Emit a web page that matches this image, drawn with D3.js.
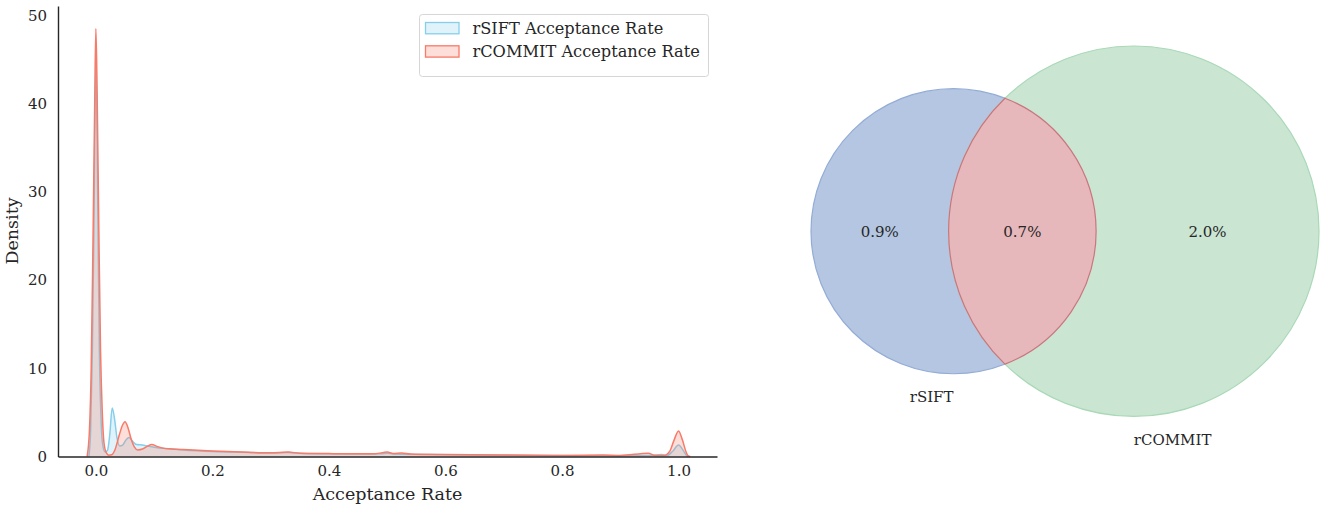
<!DOCTYPE html>
<html>
<head>
<meta charset="utf-8">
<script src="https://cdn.jsdelivr.net/npm/d3@7"></script>
<style>
  body { margin: 0; background: #fff; }
  text { font-family: 'DejaVu Serif', serif; fill: #262626; }
</style>
</head>
<body>
<div id="chart"></div>
<script>
// KDE of acceptance rate (x = acceptance rate, y = density)
var siftX = [-0.012, -0.009, -0.006, -0.003, 0.0, 0.003, 0.006, 0.009, 0.012, 0.016, 0.020,
  0.024, 0.028, 0.032, 0.036, 0.041, 0.046, 0.052, 0.057, 0.062, 0.070, 0.080, 0.090, 0.100,
  0.120, 0.150, 0.200, 0.250, 0.300, 0.330, 0.350, 0.400, 0.450, 0.490, 0.500, 0.510, 0.600,
  0.700, 0.800, 0.900, 0.950, 0.971, 0.980, 0.990, 1.000, 1.008, 1.014, 1.017];
var siftDensity = [0, 3, 12, 28, 45, 30, 12, 4, 1.2, 0.5, 0.7,
  2.6, 5.5, 4.3, 2.2, 1.2, 1.3, 1.9, 2.15, 1.8, 1.35, 1.3, 1.15, 1.05,
  0.9, 0.75, 0.58, 0.48, 0.4, 0.45, 0.36, 0.3, 0.27, 0.3, 0.38, 0.28, 0.2,
  0.15, 0.1, 0.08, 0.1, 0.22, 0.1, 0.6, 1.3, 0.7, 0.1, 0];

var commitX = [-0.015, -0.011, -0.008, -0.005, -0.002, 0.0, 0.002, 0.005, 0.008, 0.011, 0.014,
  0.018, 0.022, 0.027, 0.033, 0.040, 0.046, 0.050, 0.055, 0.060, 0.066, 0.072, 0.080, 0.088,
  0.096, 0.105, 0.115, 0.130, 0.150, 0.200, 0.250, 0.300, 0.330, 0.350, 0.400, 0.450, 0.480,
  0.500, 0.510, 0.525, 0.540, 0.600, 0.700, 0.800, 0.870, 0.900, 0.948, 0.960, 0.975, 0.985,
  0.992, 1.000, 1.007, 1.013, 1.016, 1.020];
var commitDensity = [0, 3, 10, 24, 40, 48.5, 42, 26, 12, 5, 1.5,
  0.4, 0.15, 0.2, 0.8, 2.4, 3.6, 3.95, 3.3, 2.1, 1.1, 0.75, 0.85, 1.15,
  1.35, 1.15, 0.95, 0.85, 0.78, 0.62, 0.5, 0.42, 0.5, 0.38, 0.33, 0.3, 0.32,
  0.5, 0.35, 0.4, 0.28, 0.22, 0.17, 0.12, 0.16, 0.12, 0.38, 0.1, 0.1, 0.6,
  1.8, 2.9, 1.8, 0.5, 0.1, 0];

var seriesNames = ['rSIFT Acceptance Rate', 'rCOMMIT Acceptance Rate'];
var seriesColours = ['#87ceeb', '#f87a68'];

var xTicks = [0.0, 0.2, 0.4, 0.6, 0.8, 1.0];
var yTicks = [0, 10, 20, 30, 40, 50];

// Venn: share of each region (percent)
var vennSetLabels = ['rSIFT', 'rCOMMIT'];
var vennOnlyA = 0.9;
var vennBoth = 0.7;
var vennOnlyB = 2.0;

var canvasWidth = 1325;
var canvasHeight = 509;

var svg = d3.select('#chart')
  .append('svg')
  .attr('width', canvasWidth)
  .attr('height', canvasHeight);

function renderDensity() {
  var xScale = d3.scaleLinear().domain([-0.065, 1.066]).range([58, 717]);
  var yScale = d3.scaleLinear().domain([0, 51.05]).range([456.5, 6]);

  var series = [
    { name: seriesNames[0], colour: seriesColours[0], points: d3.zip(siftX, siftDensity) },
    { name: seriesNames[1], colour: seriesColours[1], points: d3.zip(commitX, commitDensity) }
  ];

  var area = d3.area()
    .x(d => xScale(d[0]))
    .y0(yScale(0))
    .y1(d => yScale(d[1]))
    .curve(d3.curveMonotoneX);

  var line = d3.line()
    .x(d => xScale(d[0]))
    .y(d => yScale(d[1]))
    .curve(d3.curveMonotoneX);

  var g = svg.append('g');

  series.forEach(s => {
    g.append('path')
      .attr('d', area(s.points))
      .style('fill', s.colour)
      .style('fill-opacity', 0.25)
      .style('stroke', 'none');
    g.append('path')
      .attr('d', line(s.points))
      .style('fill', 'none')
      .style('stroke', s.colour)
      .style('stroke-width', '1.5px')
      .style('stroke-linejoin', 'round');
  });

  // Axes (seaborn white style: no tick marks, left and bottom spines only)
  var xAxis = d3.axisBottom(xScale).tickValues(xTicks).tickFormat(d3.format('.1f'))
    .tickSize(0).tickPadding(9).tickSizeOuter(0);
  var yAxis = d3.axisLeft(yScale).tickValues(yTicks).tickFormat(d3.format('d'))
    .tickSize(0).tickPadding(11).tickSizeOuter(0);

  var xg = svg.append('g')
    .attr('transform', 'translate(0,' + yScale(0) + ')')
    .call(xAxis);
  var yg = svg.append('g')
    .attr('transform', 'translate(' + xScale.range()[0] + ',0)')
    .call(yAxis);

  [xg, yg].forEach(a => {
    a.select('.domain').style('stroke', '#262626').style('stroke-width', '1.4px');
    a.selectAll('text')
      .style('font-family', "'DejaVu Serif', serif")
      .style('font-size', '15px')
      .style('fill', '#262626');
  });

  svg.append('text')
    .attr('x', (xScale.range()[0] + xScale.range()[1]) / 2)
    .attr('y', 500)
    .attr('text-anchor', 'middle')
    .style('font-size', '17.5px')
    .text('Acceptance Rate');

  svg.append('text')
    .attr('transform', 'translate(18,231) rotate(-90)')
    .attr('text-anchor', 'middle')
    .style('font-size', '17.5px')
    .text('Density');

  // Legend
  var legend = svg.append('g').attr('transform', 'translate(419.5,14.5)');
  legend.append('rect')
    .attr('width', 289)
    .attr('height', 62)
    .attr('rx', 3)
    .style('fill', '#fff')
    .style('fill-opacity', 0.8)
    .style('stroke', '#d6d6d6')
    .style('stroke-width', '1px');

  var items = legend.selectAll('g.item')
    .data(series)
    .enter()
    .append('g')
    .attr('class', 'item')
    .attr('transform', (d, i) => 'translate(6,' + (8 + i * 23.3) + ')');

  items.append('rect')
    .attr('width', 33.5)
    .attr('height', 11.3)
    .style('fill', d => d.colour)
    .style('fill-opacity', 0.25)
    .style('stroke', d => d.colour)
    .style('stroke-width', '1.3px');

  items.append('text')
    .attr('x', 47)
    .attr('y', 11.6)
    .style('font-size', '16.2px')
    .text(d => d.name);
}

// Find the centre distance so that two circles overlap by the given area
function lensArea(r1, r2, d) {
  if (d >= r1 + r2) return 0;
  if (d <= Math.abs(r1 - r2)) return Math.PI * Math.min(r1, r2) * Math.min(r1, r2);
  var a = (d * d + r1 * r1 - r2 * r2) / (2 * d);
  var b = d - a;
  return r1 * r1 * Math.acos(a / r1) - a * Math.sqrt(r1 * r1 - a * a) +
    r2 * r2 * Math.acos(b / r2) - b * Math.sqrt(r2 * r2 - b * b);
}

function solveDistance(r1, r2, overlap) {
  var lo = Math.abs(r1 - r2), hi = r1 + r2;
  for (var i = 0; i < 60; i++) {
    var mid = (lo + hi) / 2;
    if (lensArea(r1, r2, mid) > overlap) lo = mid; else hi = mid;
  }
  return (lo + hi) / 2;
}

function renderVenn() {
  var r1 = Math.sqrt((vennOnlyA + vennBoth) / Math.PI);
  var r2 = Math.sqrt((vennOnlyB + vennBoth) / Math.PI);
  var d = solveDistance(r1, r2, vennBoth);

  // Diagram spans from the left edge of A to the right edge of B
  var vx = d3.scaleLinear().domain([-r1, d + r2]).range([811, 1319]);
  var k = (vx(1) - vx(0));
  var cy = 231.2;

  var c1 = vx(0), c2 = vx(d);
  var R1 = r1 * k, R2 = r2 * k;
  var a = (d * d + r1 * r1 - r2 * r2) / (2 * d);
  var h = Math.sqrt(r1 * r1 - a * a) * k;
  var ix = vx(a);

  var g = svg.append('g');

  g.append('circle')
    .attr('cx', c1).attr('cy', cy).attr('r', R1)
    .style('fill', '#b4c6e1')
    .style('stroke', '#93acd6')
    .style('stroke-width', '1.2px');

  g.append('circle')
    .attr('cx', c2).attr('cy', cy).attr('r', R2)
    .style('fill', '#cbe5d3')
    .style('stroke', '#a9d9b7')
    .style('stroke-width', '1.2px');

  var lens = 'M' + ix + ',' + (cy - h) +
    'A' + R2 + ',' + R2 + ' 0 0 0 ' + ix + ',' + (cy + h) +
    'A' + R1 + ',' + R1 + ' 0 0 0 ' + ix + ',' + (cy - h) + 'Z';

  g.append('path')
    .attr('d', lens)
    .style('fill', '#e7b8bb')
    .style('stroke', '#c9767e')
    .style('stroke-width', '1.2px');

  var fmt = v => v.toFixed(1) + '%';
  var regions = [
    { x: (vx(-r1) + vx(d - r2)) / 2, value: vennOnlyA },
    { x: (vx(d - r2) + vx(r1)) / 2, value: vennBoth },
    { x: (vx(r1) + vx(d + r2)) / 2, value: vennOnlyB }
  ];

  g.selectAll('text.region')
    .data(regions)
    .enter()
    .append('text')
    .attr('class', 'region')
    .attr('x', r => r.x)
    .attr('y', cy + 5.5)
    .attr('text-anchor', 'middle')
    .style('font-size', '15px')
    .text(r => fmt(r.value));

  g.append('text')
    .attr('x', c1).attr('y', cy + R1 + 28.5)
    .attr('text-anchor', 'end')
    .style('font-size', '15px')
    .text(vennSetLabels[0]);

  g.append('text')
    .attr('x', c2).attr('y', cy + R2 + 28.5)
    .attr('text-anchor', 'start')
    .style('font-size', '15px')
    .text(vennSetLabels[1]);
}

renderDensity();
renderVenn();
</script>
</body>
</html>
